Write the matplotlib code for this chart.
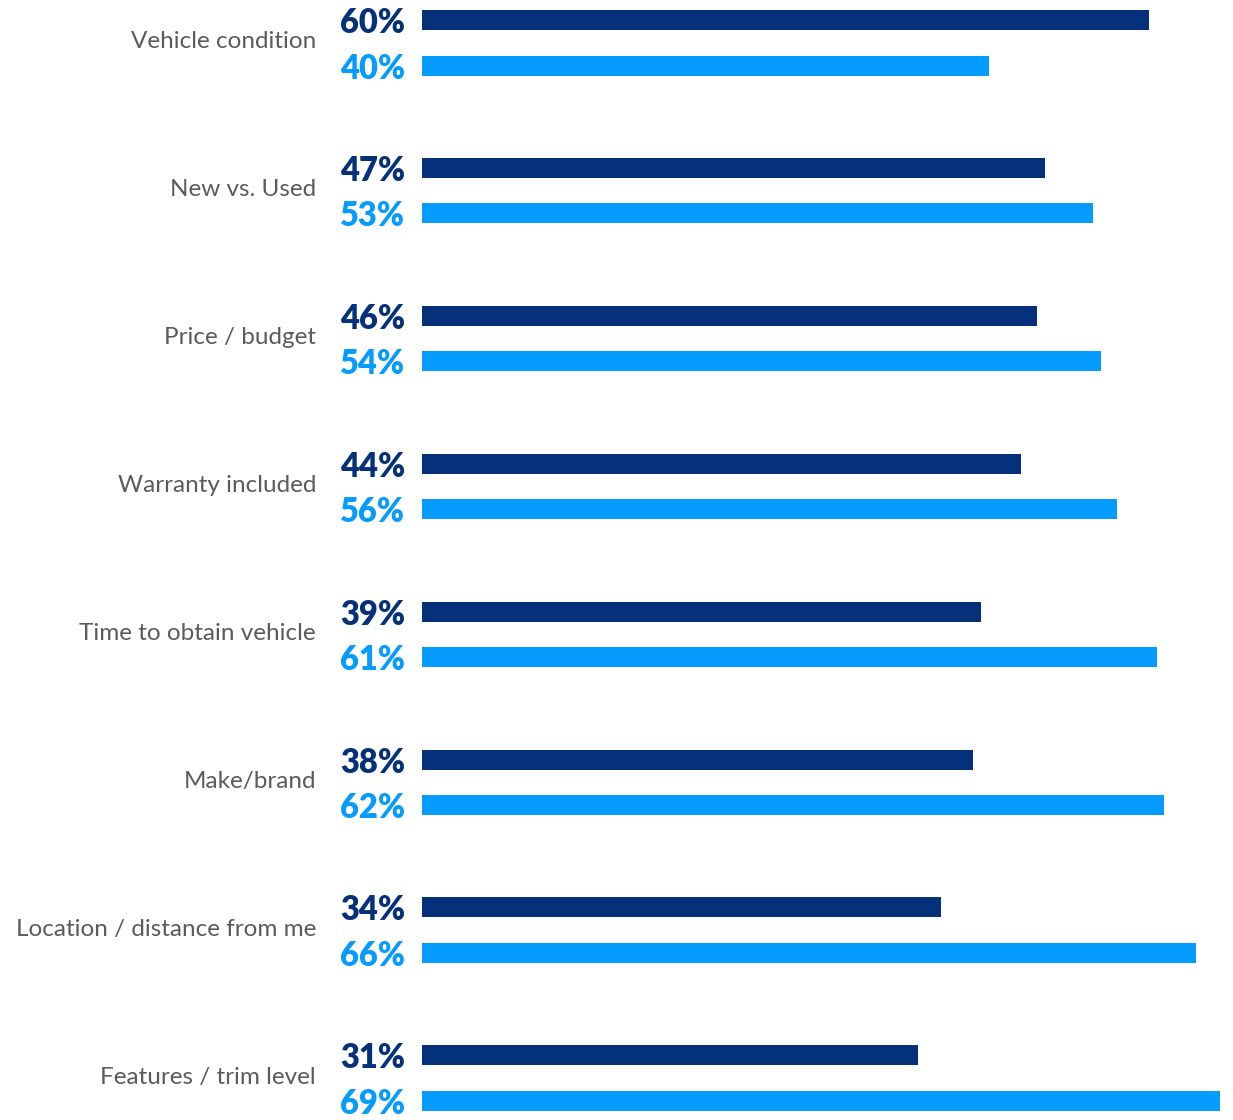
import matplotlib
matplotlib.use("Agg")
import matplotlib.pyplot as plt
import numpy as np

categories = [
    "Vehicle condition",
    "New vs. Used",
    "Price / budget",
    "Warranty included",
    "Time to obtain vehicle",
    "Make/brand",
    "Location / distance from me",
    "Features / trim level",
]
dark_vals = [60, 47, 46, 44, 39, 38, 34, 31]
light_vals = [40, 53, 54, 56, 61, 62, 66, 69]

DARK = "#05317A"
LIGHT = "#069BFE"
GREY = "#5B5B5B"
BASE = -31.2          # where the bars start on the value axis
PAIR_GAP = 0.308      # vertical offset of second bar in a group
BAR_H = 0.135

plt.rcParams["font.family"] = ["Lato", "DejaVu Sans"]

fig = plt.figure(figsize=(12.33, 11.2), dpi=100)
ax = fig.add_axes([422 / 1233, 0, 1 - 422 / 1233, 1])

y = np.arange(len(categories))
dark = np.array(dark_vals)
light = np.array(light_vals)

ax.barh(y, dark - BASE, left=BASE, height=BAR_H, color=DARK)
ax.barh(y + PAIR_GAP, light - BASE, left=BASE, height=BAR_H, color=LIGHT)

ax.set_xlim(BASE, 70.6)
ax.set_ylim(7.437, -0.135)
ax.axis("off")

for i, cat in enumerate(categories):
    ax.annotate(f"{dark_vals[i]}%", (BASE, y[i]), xytext=(-17, -3),
                textcoords="offset pixels", ha="right", va="center",
                fontsize=23.5, fontweight="heavy", color=DARK)
    ax.annotate(f"{light_vals[i]}%", (BASE, y[i] + PAIR_GAP), xytext=(-17, -3),
                textcoords="offset pixels", ha="right", va="center",
                fontsize=23.5, fontweight="heavy", color=LIGHT)
    ax.annotate(cat, (BASE, y[i] + PAIR_GAP / 2), xytext=(-106, 1),
                textcoords="offset pixels", ha="right", va="center",
                fontsize=17.5, color=GREY)

fig.savefig("out.png", dpi=100)
